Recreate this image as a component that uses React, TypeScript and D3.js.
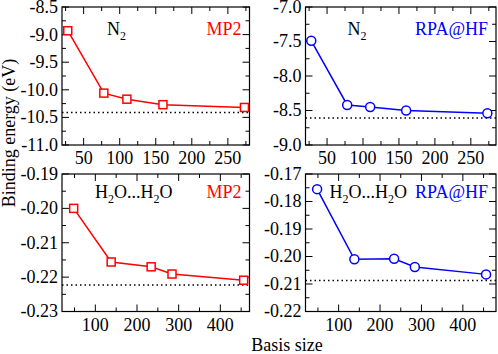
import React from "react";
import * as d3 from "d3";

// basis sizes
const n2Basis = [28, 78, 110, 160, 273];
const waterBasis = [48, 138, 234, 284, 456];

// binding energies (eV)
const n2Mp2 = [-8.93, -10.06, -10.17, -10.27, -10.32];
const n2Rpa = [-7.49, -8.42, -8.45, -8.5, -8.54];
const waterMp2 = [-0.2, -0.2156, -0.217, -0.2191, -0.2209];
const waterRpa = [-0.1755, -0.201, -0.2008, -0.2038, -0.2065];

// reference (dotted) values
const n2Mp2Ref = -10.41;
const n2RpaRef = -8.61;
const waterMp2Ref = -0.2223;
const waterRpaRef = -0.2087;

const red = "#ff0000";
const blue = "#0000ff";
const font = "'Liberation Serif', 'Times New Roman', serif";

type Panel = {
  x0: number; x1: number; y0: number; y1: number;
  xDomain: [number, number]; yDomain: [number, number];
  xMajor: number; xMinor: number; yMajor: number; yMinor: number;
  yFmt: string;
  xs: number[]; ys: number[]; ref: number;
  color: string; marker: "square" | "circle";
  molecule: "n2" | "water"; method: string;
};

const panels: Panel[] = [
  {
    x0: 62, x1: 249.5, y0: 7, y1: 145, xDomain: [20, 280], yDomain: [-11, -8.5],
    xMajor: 50, xMinor: 25, yMajor: 0.5, yMinor: 0.25, yFmt: ".1f",
    xs: n2Basis, ys: n2Mp2, ref: n2Mp2Ref, color: red, marker: "square", molecule: "n2", method: "MP2",
  },
  {
    x0: 305.5, x1: 496, y0: 7, y1: 145, xDomain: [20, 285], yDomain: [-9, -7],
    xMajor: 50, xMinor: 25, yMajor: 0.5, yMinor: 0.25, yFmt: ".1f",
    xs: n2Basis, ys: n2Rpa, ref: n2RpaRef, color: blue, marker: "circle", molecule: "n2", method: "RPA@HF",
  },
  {
    x0: 62, x1: 249.5, y0: 174, y1: 311.5, xDomain: [20, 470], yDomain: [-0.23, -0.19],
    xMajor: 100, xMinor: 50, yMajor: 0.01, yMinor: 0.005, yFmt: ".2f",
    xs: waterBasis, ys: waterMp2, ref: waterMp2Ref, color: red, marker: "square", molecule: "water", method: "MP2",
  },
  {
    x0: 305.5, x1: 496, y0: 174, y1: 311.5, xDomain: [20, 480], yDomain: [-0.22, -0.17],
    xMajor: 100, xMinor: 50, yMajor: 0.01, yMinor: 0.005, yFmt: ".2f",
    xs: waterBasis, ys: waterRpa, ref: waterRpaRef, color: blue, marker: "circle", molecule: "water", method: "RPA@HF",
  },
];

const ticksBetween = (lo: number, hi: number, step: number) => {
  const out: number[] = [];
  const start = Math.ceil(lo / step - 1e-6);
  for (let i = start; i * step <= hi + 1e-9; i++) out.push(+(i * step).toFixed(6));
  return out;
};

const txt = { fontFamily: font };
const fs = 18;

const PanelView = ({ p }: { p: Panel }) => {
  const x = d3.scaleLinear().domain(p.xDomain).range([p.x0, p.x1]);
  const y = d3.scaleLinear().domain(p.yDomain).range([p.y1, p.y0]);
  const line = d3.line<number>().x((_, i) => x(p.xs[i])).y((d) => y(d));
  const fmt = d3.format(p.yFmt);
  const isMaj = (arr: number[], t: number) => arr.some((m) => Math.abs(m - t) < 1e-9);
  const xMaj = ticksBetween(p.xDomain[0], p.xDomain[1], p.xMajor);
  const xMin = ticksBetween(p.xDomain[0], p.xDomain[1], p.xMinor).filter((t) => !isMaj(xMaj, t));
  const yMaj = ticksBetween(p.yDomain[0], p.yDomain[1], p.yMajor);
  const yMin = ticksBetween(p.yDomain[0], p.yDomain[1], p.yMinor).filter((t) => !isMaj(yMaj, t));
  const maj = 7;
  const min = 4;
  const labelY = p.molecule === "n2" ? p.y0 + 28 : p.y0 + 24;
  return (
    <g>
      {/* ticks on all four sides, pointing inward */}
      <g stroke="#000" strokeWidth={1}>
        {xMaj.concat(xMin).map((t, i) => {
          const len = isMaj(xMaj, t) ? maj : min;
          return (
            <g key={"x" + i}>
              <line x1={x(t)} x2={x(t)} y1={p.y1} y2={p.y1 - len} />
              <line x1={x(t)} x2={x(t)} y1={p.y0} y2={p.y0 + len} />
            </g>
          );
        })}
        {yMaj.concat(yMin).map((t, i) => {
          const len = isMaj(yMaj, t) ? maj : min;
          return (
            <g key={"y" + i}>
              <line x1={p.x0} x2={p.x0 + len} y1={y(t)} y2={y(t)} />
              <line x1={p.x1} x2={p.x1 - len} y1={y(t)} y2={y(t)} />
            </g>
          );
        })}
      </g>
      <rect x={p.x0} y={p.y0} width={p.x1 - p.x0} height={p.y1 - p.y0} fill="none" stroke="#000" strokeWidth={1.2} />
      {xMaj.filter((t) => t > p.xDomain[0] && t < p.xDomain[1]).map((t) => (
        <text key={"xl" + t} x={x(t)} y={p.y1 + 19} textAnchor="middle" fontSize={fs} style={txt}>
          {t}
        </text>
      ))}
      {yMaj.map((t) => (
        <text key={"yl" + t} x={p.x0 - 4} y={y(t)} dy="0.33em" textAnchor="end" fontSize={fs} style={txt}>
          {fmt(t).replace("−", "-")}
        </text>
      ))}
      <line x1={p.x0} x2={p.x1} y1={y(p.ref)} y2={y(p.ref)} stroke="#000" strokeWidth={1.5} strokeDasharray="1.5,3" />
      <path d={line(p.ys) || ""} fill="none" stroke={p.color} strokeWidth={1.5} />
      {p.ys.map((v, i) =>
        p.marker === "square" ? (
          <rect key={i} x={x(p.xs[i]) - 4} y={y(v) - 4} width={8} height={8} fill="#fff" stroke={p.color} strokeWidth={1.5} />
        ) : (
          <circle key={i} cx={x(p.xs[i])} cy={y(v)} r={4.5} fill="#fff" stroke={p.color} strokeWidth={1.5} />
        )
      )}
      {p.molecule === "n2" ? (
        <text x={p.x0 + (p.color === red ? 45 : 42)} y={labelY} fontSize={fs} style={txt}>
          N<tspan fontSize={12} dy={5}>2</tspan>
        </text>
      ) : (
        <text x={p.x0 + (p.color === red ? 33 : 24)} y={labelY} fontSize={fs} style={txt}>
          H<tspan fontSize={12} dy={5}>2</tspan>
          <tspan dy={-5}>O...H</tspan>
          <tspan fontSize={12} dy={5}>2</tspan>
          <tspan dy={-5}>O</tspan>
        </text>
      )}
      <text x={p.x1 - 8} y={labelY} fontSize={fs} fill={p.color} textAnchor="end" style={txt}>
        {p.method}
      </text>
    </g>
  );
};

export default function App() {
  return (
    <svg
      width={498}
      height={354}
      style={{ position: "absolute", left: 0, top: 0, background: "#fff", fontFamily: font }}
    >
      <rect width={498} height={354} fill="#fff" />
      {panels.map((p, i) => (
        <PanelView key={i} p={p} />
      ))}
      <text transform="translate(15,133) rotate(-90)" textAnchor="middle" fontSize={fs} style={txt}>
        Binding energy (eV)
      </text>
      <text x={287} y={351} textAnchor="middle" fontSize={fs} style={txt}>
        Basis size
      </text>
    </svg>
  );
}
